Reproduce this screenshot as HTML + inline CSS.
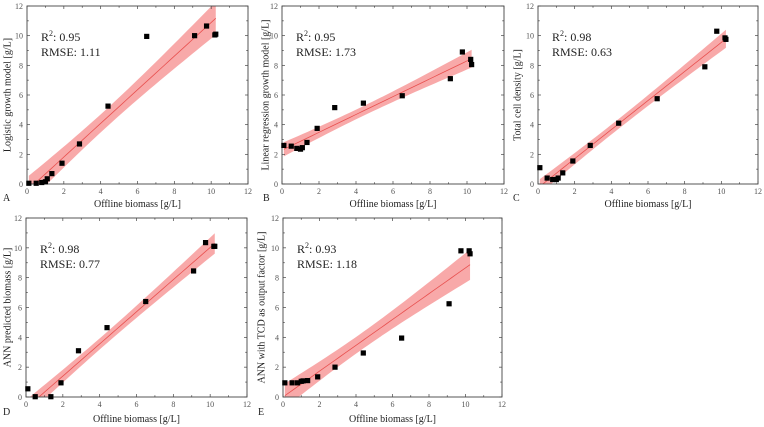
<!DOCTYPE html>
<html><head><meta charset="utf-8"><style>
html,body{margin:0;padding:0;background:#fff;}
svg{display:block;}
text{font-family:"Liberation Serif","DejaVu Serif",serif;}
</style></head><body>
<svg id="fig" width="764" height="427" viewBox="0 0 764 427" xmlns="http://www.w3.org/2000/svg"></svg>
<script>
const offlineBiomass=[0.1,0.5,0.8,1.0,1.1,1.35,1.9,2.85,4.4,6.5,9.1,9.75,10.2,10.25];
const logisticModel=[0.05,0.05,0.1,0.15,0.35,0.7,1.4,2.7,5.25,9.95,10.0,10.65,10.05,10.1];
const linearRegModel=[2.6,2.55,2.4,2.35,2.45,2.8,3.75,5.15,5.45,5.95,7.1,8.9,8.4,8.05];
const totalCellDensity=[1.1,0.4,0.3,0.3,0.4,0.75,1.55,2.6,4.1,5.75,7.9,10.3,9.85,9.75];
const annPredicted=[0.55,0.02,-0.3,-0.3,-0.2,0.02,0.95,3.1,4.65,6.4,8.45,10.35,10.1,10.1];
const annTCD=[0.95,0.95,0.95,1.05,1.08,1.1,1.35,2.0,2.95,3.95,6.25,9.8,9.8,9.6];
const r2Labels=["0.95","0.95","0.98","0.98","0.93"];
const rmseLabels=["1.11","1.73","0.63","0.77","1.18"];
const tickValues=[0,2,4,6,8,10,12];
const panelLetters=["A","B","C","D","E"];
const yTitles=["Logistic growth model [g/L]","Linear regression growth model [g/L]","Total cell density [g/L]","ANN predicted biomass [g/L]","ANN with TCD as output factor [g/L]"];
const series=[logisticModel,linearRegModel,totalCellDensity,annPredicted,annTCD];
const layouts=[
 {l:27,r:248,t:6,b:184,lx:3,ly:201,yt:8,xt:207},
 {l:282,r:504,t:6,b:184,lx:263,ly:201,yt:266,xt:207},
 {l:538,r:758,t:6,b:184,lx:513,ly:201,yt:518,xt:207},
 {l:26,r:247,t:218,b:397,lx:3,ly:415,yt:8,xt:422},
 {l:283,r:502,t:218,b:397,lx:258,ly:415,yt:262,xt:422}
];
const NS="http://www.w3.org/2000/svg";
const FF='"Liberation Serif","DejaVu Serif",serif';
const svg=document.getElementById('fig');
function mk(tag,attrs,parent){const e=document.createElementNS(NS,tag);for(const k in attrs)e.setAttribute(k,attrs[k]);if(tag==='text')e.setAttribute('font-family',FF);(parent||svg).appendChild(e);return e;}
series.forEach((ys,pi)=>{
 const L=layouts[pi];
 const g=mk('g',{});
 
 
 const sx=v=>L.l+(v/12)*(L.r-L.l);
 const sy=v=>L.b-(v/12)*(L.b-L.t);
 const cid='clip'+pi;
 const cp=mk('clipPath',{id:cid},g);mk('rect',{x:L.l,y:L.t,width:L.r-L.l,height:L.b-L.t},cp);
 const n=offlineBiomass.length;
 const mx=offlineBiomass.reduce((a,b)=>a+b)/n, my=ys.reduce((a,b)=>a+b)/n;
 let sxx=0,sxy=0;offlineBiomass.forEach((x,i)=>{sxx+=(x-mx)**2;sxy+=(x-mx)*(ys[i]-my);});
 const slope=sxy/sxx, icpt=my-slope*mx;
 let sse=0;offlineBiomass.forEach((x,i)=>{sse+=(ys[i]-(icpt+slope*x))**2;});
 const s=Math.sqrt(sse/(n-2)), tval=2.18;
 const x0=Math.min(...offlineBiomass), x1=Math.max(...offlineBiomass);
 const up=[],lo=[],ln=[];
 for(let k=0;k<=40;k++){const x=x0+(x1-x0)*k/40;const yh=icpt+slope*x;const h=tval*s*Math.sqrt(1/n+(x-mx)**2/sxx);
  up.push(sx(x)+','+sy(yh+h));lo.unshift(sx(x)+','+sy(yh-h));ln.push(sx(x)+','+sy(yh));}
 const band=mk('polygon',{points:up.concat(lo).join(' '),fill:'#f79a9a','fill-opacity':0.85,'clip-path':'url(#'+cid+')'},g);
 
 
 const fit=mk('polyline',{points:ln.join(' '),fill:'none',stroke:'#e8504f','stroke-width':0.8,'clip-path':'url(#'+cid+')'},g);
 
 
 const fr=mk('rect',{x:L.l,y:L.t,width:L.r-L.l,height:L.b-L.t,fill:'none',stroke:'#444','stroke-width':0.9},g);
 
 
 for(let v=0;v<=12;v++){const major=v%2===0;const len=major?3:1.8;
  mk('line',{x1:sx(v),x2:sx(v),y1:L.b,y2:L.b-len,stroke:'#444','stroke-width':0.7},g);
  mk('line',{x1:sx(v),x2:sx(v),y1:L.t,y2:L.t+len,stroke:'#444','stroke-width':0.7},g);
  mk('line',{x1:L.l,x2:L.l+len,y1:sy(v),y2:sy(v),stroke:'#444','stroke-width':0.7},g);
  mk('line',{x1:L.r,x2:L.r-len,y1:sy(v),y2:sy(v),stroke:'#444','stroke-width':0.7},g);}
 tickValues.forEach(v=>{
  const tx=mk('text',{x:sx(v),y:L.b+10,'font-size':8,'text-anchor':'middle',fill:'#555'},g);tx.textContent=v;
  
  
  const ty=mk('text',{x:L.l-4,y:sy(v)+3,'font-size':8,'text-anchor':'end',fill:'#555'},g);ty.textContent=v;
  
  
 });
 offlineBiomass.forEach((x,i)=>{
  const y=ys[i]; if(y<-0.1) return;
  const p=mk('rect',{x:sx(x)-2.6,y:sy(Math.max(y,0))-2.6,width:5.2,height:5.2,fill:'#000'},g);
  
  
 });
 const a1=mk('text',{x:L.l+14,y:L.t+35,'font-size':12,fill:'#222'},g);
 a1.innerHTML='R<tspan font-size="8" dy="-5">2</tspan><tspan dy="5">: '+r2Labels[pi]+'</tspan>';
 
 
 const a2=mk('text',{x:L.l+14,y:L.t+50,'font-size':12,fill:'#222'},g);a2.textContent='RMSE: '+rmseLabels[pi];
 
 
 const xt=mk('text',{x:(L.l+L.r)/2,y:L.xt,'font-size':10,'text-anchor':'middle',fill:'#222'},g);xt.textContent='Offline biomass [g/L]';
 
 
 const yc=(L.t+L.b)/2;
 const yt=mk('text',{x:L.yt,y:yc,'font-size':10,'text-anchor':'middle',fill:'#222',transform:'rotate(-90 '+L.yt+' '+yc+')','dominant-baseline':'middle'},g);yt.textContent=yTitles[pi];
 
 
 const pl=mk('text',{x:L.lx,y:L.ly,'font-size':10,fill:'#222'},g);pl.textContent=panelLetters[pi];
 
 
});
</script>
</body></html>
